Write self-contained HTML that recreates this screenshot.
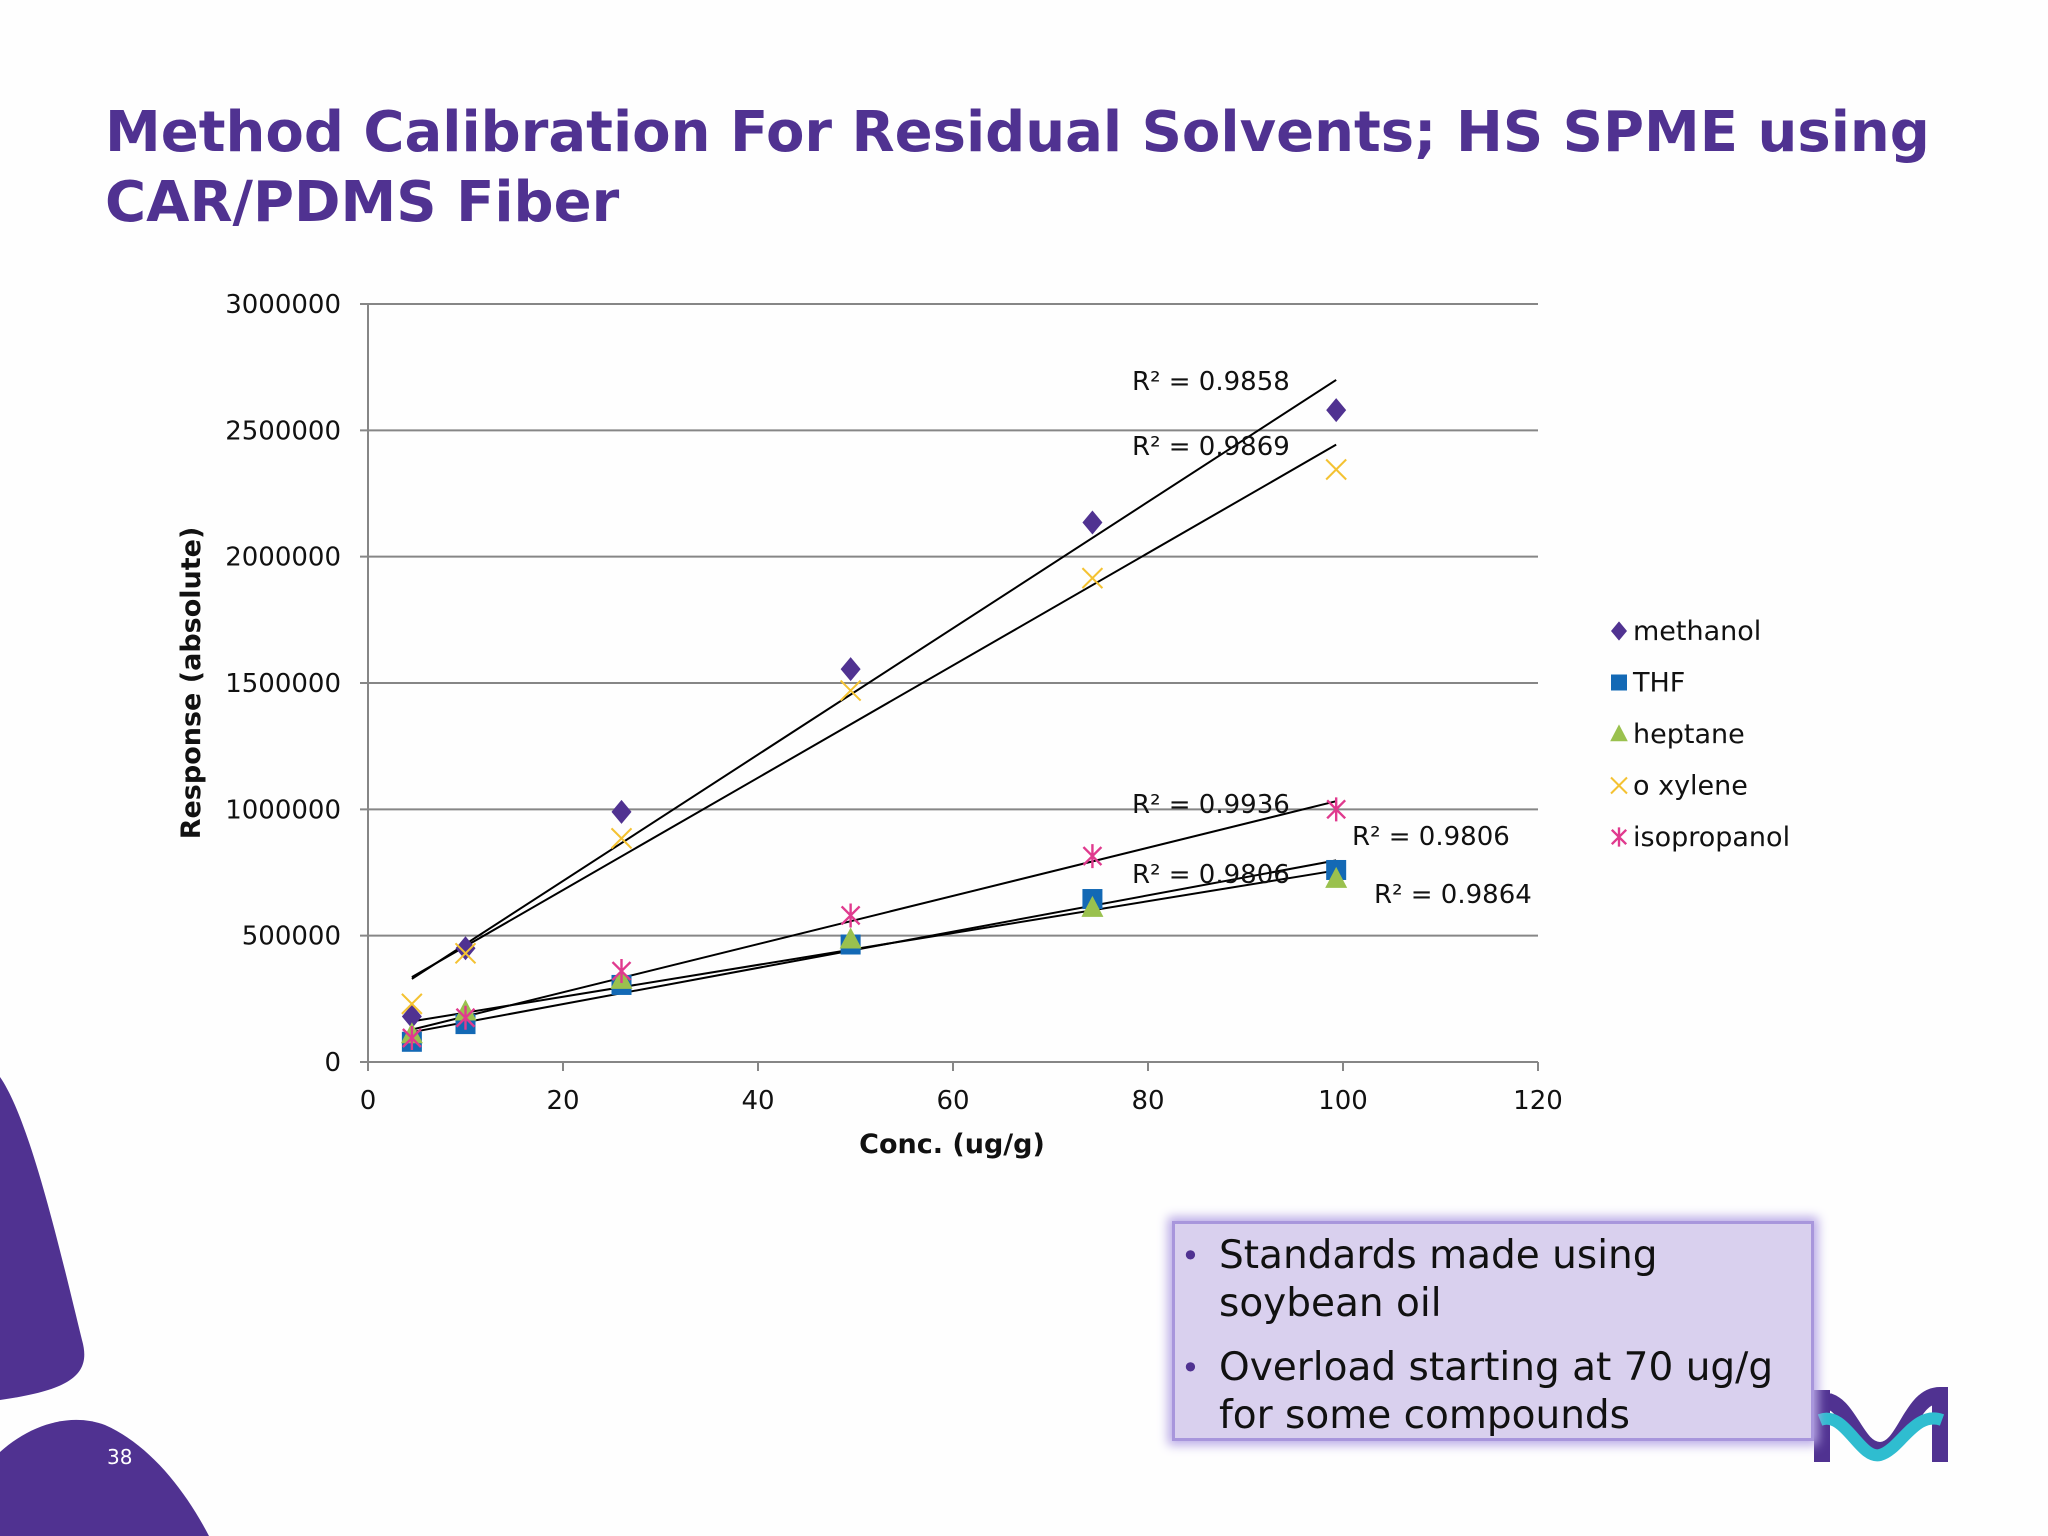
<!DOCTYPE html>
<html><head><meta charset="utf-8"><style>
html,body{margin:0;padding:0;background:#fefefe;}
body{width:2048px;height:1536px;position:relative;overflow:hidden;font-family:"Liberation Sans","DejaVu Sans",sans-serif;}
#title{position:absolute;left:105px;top:98px;font-size:56px;font-weight:bold;color:#503291;line-height:70px;font-family:"DejaVu Sans","Liberation Sans",sans-serif;letter-spacing:0;}
#note{position:absolute;left:1172px;top:1221px;width:636px;height:214px;background:#d9d0ee;border:3px solid #a896dc;box-shadow:0 0 10px 4px #b8a8e6;font-family:"DejaVu Sans",sans-serif;font-size:39px;line-height:48px;color:#111;}
#note ul{margin:8px 0 0 0;padding:0 0 0 44px;list-style:none;}
#note li{position:relative;margin-bottom:16px;}
#note li:before{content:"•";position:absolute;left:-38px;color:#503291;font-size:32px;}
</style></head><body>
<div id="title">Method Calibration For Residual Solvents; HS SPME using<br>CAR/PDMS Fiber</div>
<svg id="chart" width="2048" height="1536" viewBox="0 0 2048 1536" style="position:absolute;left:0;top:0">
<path d="M0,1077 C30,1120 60,1250 82,1340 C92,1375 70,1390 0,1400 Z" fill="#503291"/>
<path d="M0,1452 C30,1425 70,1412 105,1425 C150,1445 185,1490 209,1536 L0,1536 Z" fill="#503291"/>
<text x="107" y="1464" font-size="20" fill="#fff" font-family="DejaVu Sans,sans-serif">38</text>
<g>
<path d="M1822,1390 L1822,1462 M1822,1400 C1850,1400 1855,1450 1880,1450 C1905,1450 1910,1395 1940,1395 L1940,1462" stroke="#503291" stroke-width="16" fill="none"/>
<path d="M1820,1420 C1845,1410 1860,1460 1880,1455 C1900,1450 1915,1410 1942,1420" stroke="#2fbdd0" stroke-width="12" fill="none"/>
</g>
<g id="grid"></g><g id="axes"></g><g id="trend"></g><g id="marks"></g><g id="labels"></g>
<text transform="translate(200,683) rotate(-90)" text-anchor="middle" font-size="27" font-weight="bold" font-family="DejaVu Sans,sans-serif" fill="#111">Response (absolute)</text>
<text x="952" y="1153" text-anchor="middle" font-size="27" font-weight="bold" font-family="DejaVu Sans,sans-serif" fill="#111">Conc. (ug/g)</text>
<g id="legend"></g>
</svg>
<div id="note"><ul>
<li>Standards made using soybean oil</li>
<li>Overload starting at 70 ug/g for some compounds</li></ul></div>
<script>
const xVals=[4.5,10,26,49.5,74.3,99.3];
const methanol=[180000,450000,990000,1555000,2135000,2580000];
const thf=[80000,150000,305000,465000,645000,760000];
const heptane=[110000,200000,325000,485000,610000,725000];
const oxylene=[230000,430000,885000,1470000,1915000,2345000];
const isopropanol=[95000,175000,360000,580000,815000,1000000];
const seriesNames=["methanol","THF","heptane","o xylene","isopropanol"];
const xTicks=[0,20,40,60,80,100,120];
const yTicks=[0,500000,1000000,1500000,2000000,2500000,3000000];
const r2Labels=["R² = 0.9858","R² = 0.9869","R² = 0.9936","R² = 0.9806","R² = 0.9806","R² = 0.9864"];
const NS="http://www.w3.org/2000/svg";
const X0=368,X1=1538,Y0=1062,Y1=304;
const sx=v=>X0+(v/120)*(X1-X0), sy=v=>Y0-(v/3000000)*(Y0-Y1);
function mk(t,a,p){const e=document.createElementNS(NS,t);for(const k in a)e.setAttribute(k,a[k]);p.appendChild(e);return e;}
const grid=document.getElementById('grid'),axes=document.getElementById('axes');
yTicks.forEach(v=>{const l=mk('line',{x1:X0-8,x2:X1,y1:sy(v),y2:sy(v),stroke:'#868686','stroke-width':2},grid);

const t=mk('text',{x:341,y:sy(v)+9,'text-anchor':'end','font-size':26,'font-family':'DejaVu Sans,sans-serif',fill:'#111'},axes);t.textContent=v;
});
let a=mk('line',{x1:X0,x2:X0,y1:Y1,y2:Y0,stroke:'#868686','stroke-width':2},axes);

xTicks.forEach(v=>{const l=mk('line',{x1:sx(v),x2:sx(v),y1:Y0,y2:Y0+9,stroke:'#868686','stroke-width':2},axes);

const t=mk('text',{x:sx(v),y:1109,'text-anchor':'middle','font-size':26,'font-family':'DejaVu Sans,sans-serif',fill:'#111'},axes);t.textContent=v;
});
const data=[methanol,thf,heptane,oxylene,isopropanol];
const trend=document.getElementById('trend');
data.forEach((ys)=>{const n=xVals.length;let mx=0,my=0;for(let i=0;i<n;i++){mx+=xVals[i]/n;my+=ys[i]/n;}
let sxy=0,sxx=0;for(let i=0;i<n;i++){sxy+=(xVals[i]-mx)*(ys[i]-my);sxx+=(xVals[i]-mx)**2;}
const b=sxy/sxx,c=my-b*mx;const xa=xVals[0],xb=xVals[n-1];
const l=mk('line',{x1:sx(xa),y1:sy(c+b*xa),x2:sx(xb),y2:sy(c+b*xb),stroke:'#000','stroke-width':2},trend);
});
function marker(k,cx,cy,p,s){s=s||1;let e;
if(k==0)e=mk('path',{d:`M${cx},${cy-12*s}L${cx+10*s},${cy}L${cx},${cy+12*s}L${cx-10*s},${cy}Z`,fill:'#503291'},p);
else if(k==1)e=mk('rect',{x:cx-10*s,y:cy-10*s,width:20*s,height:20*s,fill:'#1369b5'},p);
else if(k==2)e=mk('path',{d:`M${cx},${cy-12*s}L${cx+11*s},${cy+9*s}L${cx-11*s},${cy+9*s}Z`,fill:'#9ac14e'},p);
else if(k==3)e=mk('path',{d:`M${cx-10*s},${cy-10*s}L${cx+10*s},${cy+10*s}M${cx+10*s},${cy-10*s}L${cx-10*s},${cy+10*s}`,stroke:'#f4c232','stroke-width':2,fill:'none'},p);
else e=mk('path',{d:`M${cx-9*s},${cy-9*s}L${cx+9*s},${cy+9*s}M${cx+9*s},${cy-9*s}L${cx-9*s},${cy+9*s}M${cx},${cy-12*s}L${cx},${cy+12*s}`,stroke:'#e03a8e','stroke-width':2.4,fill:'none'},p);
return e;}
const marks=document.getElementById('marks');
const order=[0,3,1,2,4];
order.forEach(k=>{data[k].forEach((v,i)=>{const e=marker(k,sx(xVals[i]),sy(v),marks);

});});
const labPos=[[1132,390],[1132,455],[1132,813],[1352,845],[1132,883],[1374,903]];
const labels=document.getElementById('labels');
r2Labels.forEach((s,i)=>{const t=mk('text',{x:labPos[i][0],y:labPos[i][1],'font-size':26,'font-family':'DejaVu Sans,sans-serif',fill:'#111'},labels);t.textContent=s;
});
const legend=document.getElementById('legend');
seriesNames.forEach((s,k)=>{const y=631+k*51.5;const g=mk('g',{},legend);

marker(k,1619,y,g,0.8);
const t=mk('text',{x:1633,y:y+9,'font-size':27,'font-family':'DejaVu Sans,sans-serif',fill:'#111'},g);t.textContent=s;});
</script>
</body></html>
